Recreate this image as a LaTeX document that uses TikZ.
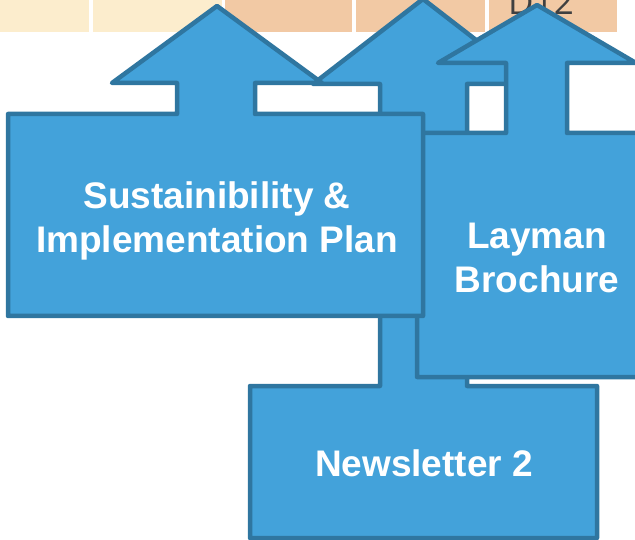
\documentclass[tikz,border=0pt]{standalone}
\usepackage{fontspec}
\setmainfont{Liberation Sans}
\newfontfamily\cellfont{Open Sans}
\definecolor{calloutfill}{RGB}{67,162,218}
\definecolor{calloutline}{RGB}{47,118,160}
\definecolor{creamcell}{RGB}{252,237,205}
\definecolor{peachcell}{RGB}{242,201,164}

\begin{document}
\begin{tikzpicture}[x=1pt, y=-1pt,
    callout/.style={draw=calloutline, fill=calloutfill, line width=4.5pt, line join=round},
    boxtext/.style={text=white, font=\bfseries\fontsize{37}{44}\selectfont, align=center, inner sep=0pt},
    tablecell/.style={fill=#1, draw=none}]
  \useasboundingbox (0,0) rectangle (635,540);
  % row of cells at the top
  \fill[tablecell=creamcell] (-40,0) rectangle (89,32);
  \fill[tablecell=creamcell] (93,0) rectangle (222,32);
  \fill[tablecell=peachcell] (225,0) rectangle (352,32);
  \fill[tablecell=peachcell] (356,0) rectangle (485,32);
  \fill[tablecell=peachcell] (489,0) rectangle (617,32);
  \node[font=\cellfont\fontsize{35}{40}\selectfont, text=black!75, anchor=base, inner sep=0pt] (dtwelve) at (541,15) {D12};

  % up arrow callouts, back to front
  \draw[callout] (250,386) -- (380,386) -- (380,84) -- (313,84) -- (423,-1) -- (533,84)
    -- (467,84) -- (467,386) -- (597,386) -- (597,538) -- (250,538) -- cycle;
  \node[boxtext] (newsletter) at (424,463) {Newsletter 2};

  \draw[callout] (417,133) -- (506,133) -- (506,63) -- (438,63) -- (537,5) -- (636,63)
    -- (567,63) -- (567,133) -- (657,133) -- (657,377) -- (417,377) -- cycle;
  \node[boxtext] (layman) at (537,258) {Layman\\Brochure};

  \draw[callout] (8,114) -- (177,114) -- (177,83) -- (112,83) -- (217,6) -- (322,83)
    -- (255,83) -- (255,114) -- (423,114) -- (423,316) -- (8,316) -- cycle;
  \node[boxtext] (sustain) at (217,221) {Sustainibility \&\\Implementation Plan};
\end{tikzpicture}
\end{document}
